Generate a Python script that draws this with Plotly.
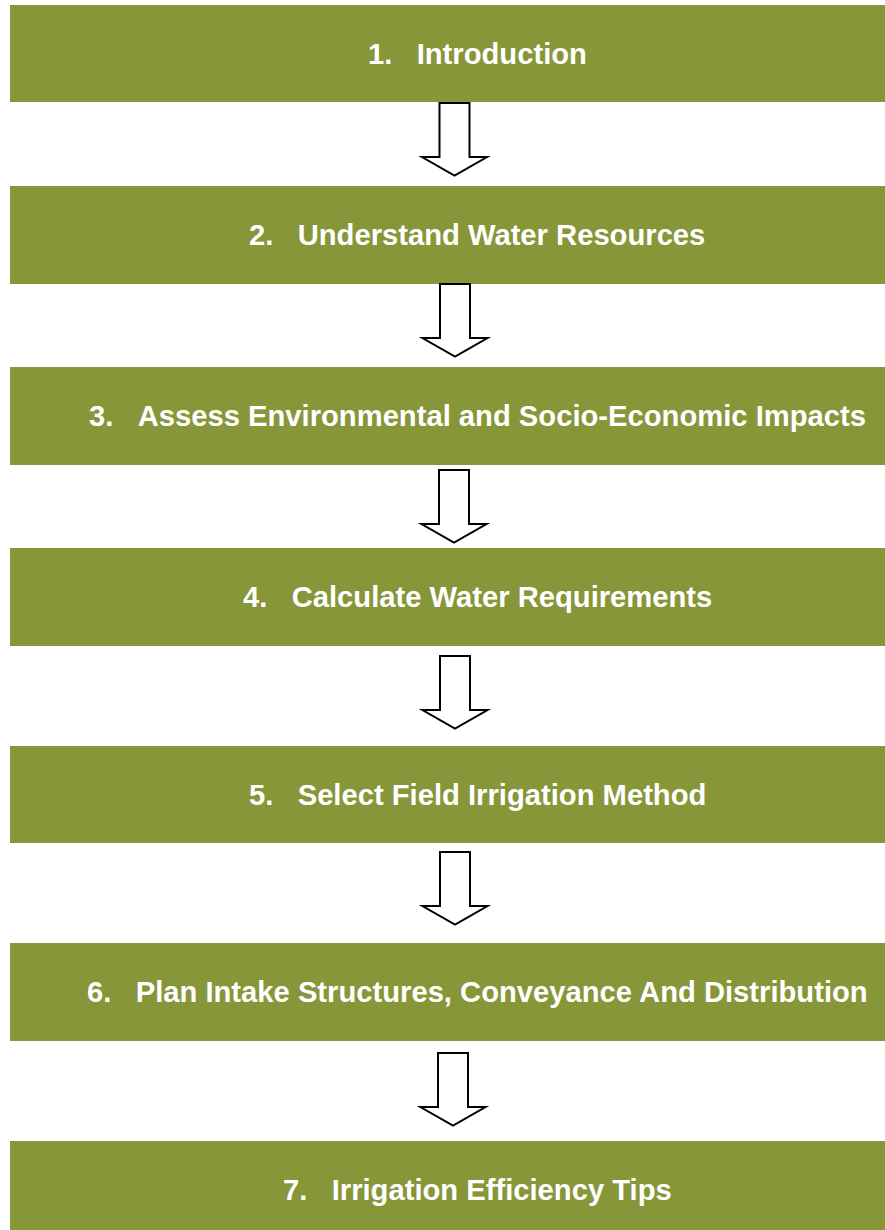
import plotly.graph_objects as go

# ---- content ----
step_numbers = ["1.", "2.", "3.", "4.", "5.", "6.", "7."]
step_labels = [
    "Introduction",
    "Understand Water Resources",
    "Assess Environmental and Socio-Economic Impacts",
    "Calculate Water Requirements",
    "Select Field Irrigation Method",
    "Plan Intake Structures, Conveyance And Distribution",
    "Irrigation Efficiency Tips",
]

# ---- layout constants (pixel space) ----
W, H = 885, 1230
box_left, box_right = 10, 885
box_tops = [5, 186, 367, 548, 746, 943, 1141]
box_bottoms = [102, 284, 465, 646, 843, 1041, 1240]
arrow_tops = [103, 284, 470, 656, 852, 1053]
arrow_cx = [454.5, 455, 454, 455, 455, 453]
shaft_len = 54
head_len = 18.5
shaft_half = 15
head_half = 32.5
text_cx = 477
GREEN = "#879638"

fig = go.Figure()
fig.add_trace(go.Scatter(x=[0, W], y=[0, H], mode="markers",
                         marker=dict(opacity=0), hoverinfo="skip", showlegend=False))

shapes = []
annotations = []
for num, lab, top, bot in zip(step_numbers, step_labels, box_tops, box_bottoms):
    shapes.append(dict(type="rect", xref="x", yref="y", x0=box_left, x1=box_right,
                       y0=top, y1=bot, fillcolor=GREEN, line=dict(width=0), layer="below"))
    yc = (top + bot) / 2 if bot < H else (top + 1238) / 2
    annotations.append(dict(x=text_cx, y=yc,
                            xref="x", yref="y", showarrow=False,
                            text=f"<b>{num}\u00a0\u00a0\u00a0{lab}</b>",
                            font=dict(family="Liberation Sans, Arial, sans-serif", size=29.2, color="white"),
                            xanchor="center", yanchor="middle"))

for top, cx in zip(arrow_tops, arrow_cx):
    yh = top + shaft_len
    yt = yh + head_len
    path = (f"M {cx - shaft_half} {top} L {cx + shaft_half} {top} L {cx + shaft_half} {yh} "
            f"L {cx + head_half} {yh} L {cx} {yt} L {cx - head_half} {yh} "
            f"L {cx - shaft_half} {yh} Z")
    shapes.append(dict(type="path", xref="x", yref="y", path=path,
                       fillcolor="white", line=dict(color="black", width=2)))

fig.update_layout(
    width=W, height=H,
    margin=dict(l=0, r=0, t=0, b=0),
    paper_bgcolor="white", plot_bgcolor="white",
    xaxis=dict(range=[0, W], visible=False, fixedrange=True),
    yaxis=dict(range=[H, 0], visible=False, fixedrange=True),
    shapes=shapes, annotations=annotations,
    showlegend=False,
)

fig.write_html("out.html", config={"displayModeBar": False},
               post_script="document.body.style.margin='0';document.body.style.overflow='hidden';")
